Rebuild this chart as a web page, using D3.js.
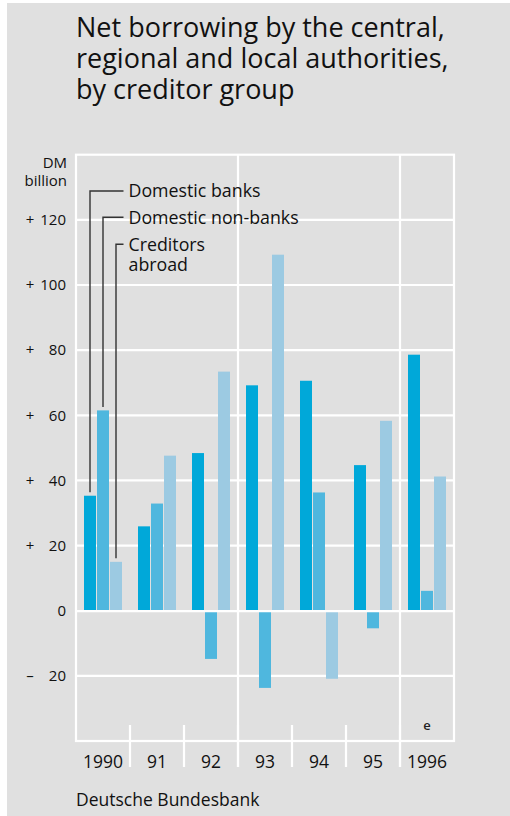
<!DOCTYPE html>
<html><head><meta charset="utf-8">
<script src="https://cdn.jsdelivr.net/npm/d3@7"></script>
<style>html,body{margin:0;padding:0;background:#fff;}svg{display:block;}</style>
</head><body>
<script>
const years = ["1990","91","92","93","94","95","1996"];
const seriesNames = ["Domestic banks","Domestic non-banks","Creditors abroad"];
const domesticBanks    = [35.3, 25.9, 48.4, 69.2, 70.6, 44.7, 78.6];
const domesticNonBanks = [61.5, 32.9, -14.8, -23.7, 36.3, -5.4, 6.1];
const creditorsAbroad  = [15.0, 47.6, 73.4, 109.3, -20.9, 58.3, 41.2];
const yTicks = [120, 100, 80, 60, 40, 20, 0, -20];
const colors = ["#00a8d9", "#4fb7de", "#9ccae2"];
const title = ["Net borrowing by the central,", "regional and local authorities,", "by creditor group"];
const source = "Deutsche Bundesbank";
const estimateMark = "e";

(function () {
const W = 510, H = 816;
const FONT = "'Open Sans', sans-serif";
const svg = d3.select("body").append("svg").attr("width", W).attr("height", H);
svg.append("rect").attr("x", 7).attr("y", 3).attr("width", 503).attr("height", 813).attr("fill", "#e0e0e0");

const pL = 76, pR = 454, pT = 154.7, pB = 741;
const x = d3.scaleBand().domain(years).range([pL, pR]).padding(0);
const xi = d3.scaleBand().domain(d3.range(3)).range([8, 46]).paddingInner(0.077).paddingOuter(0);
const y = d3.scaleLinear().domain([-40, 140]).range([pB, pT]);
const series = [domesticBanks, domesticNonBanks, creditorsAbroad];

const tt = svg.append("text").attr("x", 76).attr("y", 36.5)
  .attr("font-family", FONT).attr("font-size", 27).attr("fill", "#111");
tt.selectAll("tspan").data(title).join("tspan")
  .attr("x", 76).attr("dy", (d, i) => i === 0 ? 0 : 31).text(d => d);

const g = svg.append("g");
g.selectAll("line.grid").data(yTicks.filter(t => t !== 0)).join("line")
  .attr("x1", pL).attr("x2", pR).attr("y1", d => y(d)).attr("y2", d => y(d))
  .attr("stroke", "#fff").attr("stroke-width", 2.2);
g.append("rect").attr("x", pL).attr("y", pT).attr("width", pR - pL).attr("height", pB - pT)
  .attr("fill", "none").attr("stroke", "#fff").attr("stroke-width", 2.2);
const bounds = years.slice(1).map(yr => x(yr));
g.selectAll("line.sep").data(bounds).join("line")
  .attr("x1", d => d).attr("x2", d => d).attr("y1", pB - 16).attr("y2", pB + 26)
  .attr("stroke", "#fff").attr("stroke-width", 2.2);
g.selectAll("line.full").data([x("93"), x("1996")]).join("line")
  .attr("x1", d => d).attr("x2", d => d).attr("y1", pT).attr("y2", pB + 26)
  .attr("stroke", "#fff").attr("stroke-width", 2.2);

series.forEach((vals, si) => {
  g.append("g").selectAll("rect").data(vals).join("rect")
    .attr("x", (d, i) => x(years[i]) + xi(si))
    .attr("width", xi.bandwidth())
    .attr("y", d => y(Math.max(0, d)))
    .attr("height", d => Math.abs(y(d) - y(0)))
    .attr("fill", colors[si]);
});
g.append("line").attr("x1", pL).attr("x2", pR).attr("y1", y(0) + 0.5).attr("y2", y(0) + 0.5)
  .attr("stroke", "#fff").attr("stroke-width", 2.2);

const yl = svg.append("g").attr("font-family", FONT).attr("font-size", 15).attr("fill", "#111");
yl.selectAll("text.num").data(yTicks).join("text")
  .attr("x", 66).attr("y", d => y(d) + 5.3).attr("text-anchor", "end").text(d => Math.abs(d));
yl.selectAll("text.sign").data(yTicks.filter(t => t !== 0)).join("text")
  .attr("x", 30).attr("y", d => y(d) + 5.3).attr("text-anchor", "middle").text(d => d > 0 ? "+" : "–");
const unit = yl.append("text").attr("x", 67).attr("y", 168).attr("text-anchor", "end");
unit.append("tspan").attr("x", 67).text("DM");
unit.append("tspan").attr("x", 67).attr("dy", 18).text("billion");

svg.append("g").selectAll("text").data(years).join("text")
  .attr("x", d => x(d) + x.bandwidth() / 2).attr("y", 767.5)
  .attr("text-anchor", "middle").attr("font-family", FONT).attr("font-size", 17.5).attr("fill", "#111").text(d => d);

svg.append("text").attr("x", x("1996") + xi(1) + xi.bandwidth() / 2).attr("y", 730)
  .attr("text-anchor", "middle").attr("font-family", FONT).attr("font-size", 13).attr("font-weight", 600)
  .attr("fill", "#222").text(estimateMark);

svg.append("text").attr("x", 76).attr("y", 805.5).attr("font-family", FONT).attr("font-size", 17.5)
  .attr("fill", "#111").text(source);

const legY = [191, 217.3, 244.3];
const lg = svg.append("g");
series.forEach((vals, si) => {
  const cx = x(years[0]) + xi(si) + xi.bandwidth() / 2;
  lg.append("path")
    .attr("d", `M${cx},${y(vals[0]) - 3.5}V${legY[si]}H123.5`)
    .attr("fill", "none").attr("stroke", "#333").attr("stroke-width", 1.4);
});
const lt = svg.append("g").attr("font-family", FONT).attr("font-size", 17.8).attr("fill", "#111");
lt.append("text").attr("x", 128.5).attr("y", legY[0] + 6.3).text(seriesNames[0]);
lt.append("text").attr("x", 128.5).attr("y", legY[1] + 6.3).text(seriesNames[1]);
const ca = lt.append("text").attr("x", 128.5).attr("y", legY[2] + 6.5);
ca.append("tspan").attr("x", 128.5).text("Creditors");
ca.append("tspan").attr("x", 128.5).attr("dy", 20).text("abroad");
})();
</script>
</body></html>
